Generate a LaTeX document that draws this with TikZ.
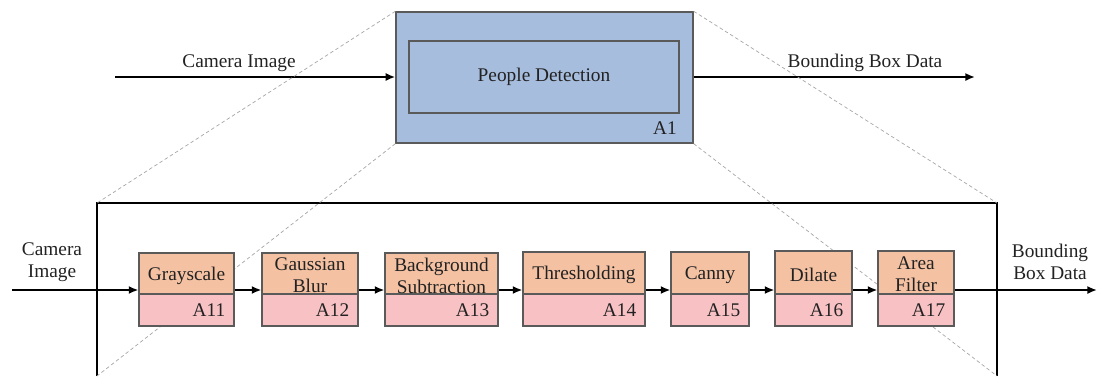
\documentclass[tikz,border=0pt]{standalone}
\usepackage{fontspec}
\setmainfont{Liberation Serif}
\usetikzlibrary{arrows.meta,fit}

\definecolor{blockblue}{HTML}{A7BDDE}
\definecolor{stagepeach}{HTML}{F4C1A2}
\definecolor{stagepink}{HTML}{F8C1C4}
\definecolor{edgegray}{HTML}{5A5A5A}
\definecolor{textdark}{HTML}{222222}

\tikzset{
  txt/.style={font=\fontsize{11}{13}\selectfont, text=textdark, align=center, inner sep=0pt},
  flow/.style={line width=1.1pt, -{Latex[length=5.5pt,width=4.6pt]}},
  stagetop/.style={draw=edgegray, line width=0.6pt, fill=stagepeach, inner sep=0pt},
  stagebot/.style={draw=edgegray, line width=0.6pt, fill=stagepink, inner sep=0pt},
  stagename/.style={txt, font=\fontsize{11}{12.5}\selectfont, yshift=-0.04cm},
  stageid/.style={txt, anchor=east, xshift=-0.18cm},
  zoomline/.style={draw=gray!70, line width=0.4pt, dash pattern=on 2pt off 1.5pt},
}

\begin{document}
\begin{tikzpicture}[x={(0.02cm,0)}, y={(0,-0.02cm)}]
  \useasboundingbox (0,0) rectangle (1097,376);

  % top level block
  \node[draw=edgegray, line width=0.8pt, fill=blockblue, inner sep=0pt,
        fit={(396,12) (693,143)}] (A1) {};
  \node[draw=edgegray, line width=0.8pt, inner sep=0pt,
        fit={(409,41) (679,113)}] (A1in) {};
  \node[txt] (A1name) at (A1in.center) {People Detection};
  \node[txt] (A1id) at (665,128) {A1};

  \coordinate (inTop) at (115,77);
  \coordinate (outTop) at (975,77);
  \draw[flow] (inTop) -- (inTop -| A1.west);
  \draw[flow] (outTop -| A1.east) -- (outTop);
  \node[txt] (camTop) at (239,63) {Camera Image};
  \node[txt] (bbTop) at (865,63) {Bounding Box Data};

  % decomposition frame
  \coordinate (FrBL) at (97,376);
  \coordinate (FrTL) at (97,203);
  \coordinate (FrTR) at (997,203);
  \coordinate (FrBR) at (997,376);
  \draw[line width=1.1pt] (FrBL) -- (FrTL) -- (FrTR) -- (FrBR);

  % projection lines
  \draw[zoomline] (A1.north west) -- (FrTL);
  \draw[zoomline] (A1.south west) -- (FrBL);
  \draw[zoomline] (A1.north east) -- (FrTR);
  \draw[zoomline] (A1.south east) -- (FrBR);

  % processing stages
  \node[stagetop, fit={(139,253) (234,294)}] (s1) {};
  \node[stagebot, fit={(139,294) (234,326)}] (b1) {};
  \node[stagename] at (s1.center) {Grayscale};
  \node[stageid] at (b1.east) {A11};

  \node[stagetop, fit={(262,253) (358,294)}] (s2) {};
  \node[stagebot, fit={(262,294) (358,326)}] (b2) {};
  \node[stagename] at (s2.center) {Gaussian\\Blur};
  \node[stageid] at (b2.east) {A12};

  \node[stagetop, fit={(385,253) (498,294)}] (s3) {};
  \node[stagebot, fit={(385,294) (498,326)}] (b3) {};
  \node[stagename] at (s3.center) {Background\\Subtraction};
  \node[stageid] at (b3.east) {A13};

  \node[stagetop, fit={(523,252) (645,294)}] (s4) {};
  \node[stagebot, fit={(523,294) (645,326)}] (b4) {};
  \node[stagename] at (s4.center) {Thresholding};
  \node[stageid] at (b4.east) {A14};

  \node[stagetop, fit={(671,252) (749,294)}] (s5) {};
  \node[stagebot, fit={(671,294) (749,326)}] (b5) {};
  \node[stagename] at (s5.center) {Canny};
  \node[stageid] at (b5.east) {A15};

  \node[stagetop, fit={(775,251) (852,294)}] (s6) {};
  \node[stagebot, fit={(775,294) (852,326)}] (b6) {};
  \node[stagename] at (s6.center) {Dilate};
  \node[stageid] at (b6.east) {A16};

  \node[stagetop, fit={(878,251) (954,294)}] (s7) {};
  \node[stagebot, fit={(878,294) (954,326)}] (b7) {};
  \node[stagename] at (s7.center) {Area\\Filter};
  \node[stageid] at (b7.east) {A17};

  % data flow between stages
  \coordinate (inLow) at (12,290);
  \coordinate (outLow) at (1097,290);
  \draw[flow] (inLow) -- (inLow -| s1.west);
  \foreach \a/\b in {s1/s2, s2/s3, s3/s4, s4/s5, s5/s6, s6/s7}
    \draw[flow] (inLow -| \a.east) -- (inLow -| \b.west);
  \draw[flow] (outLow -| s7.east) -- (outLow);

  \node[txt, font=\fontsize{11}{12.5}\selectfont] (camLow) at (52,262) {Camera\\Image};
  \node[txt, font=\fontsize{11}{12.5}\selectfont] (bbLow) at (1050,262) {Bounding\\Box Data};
\end{tikzpicture}
\end{document}
